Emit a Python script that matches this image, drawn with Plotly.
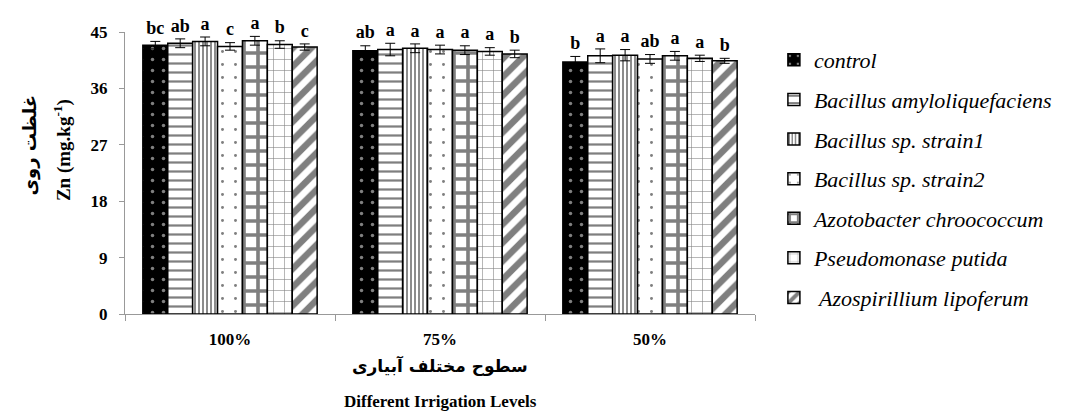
import plotly.graph_objects as go

levels = ['100%', '75%', '50%']
treatments = ['control', 'Bacillus amyloliquefaciens', 'Bacillus sp. strain1', 'Bacillus sp. strain2',
              'Azotobacter chroococcum', 'Pseudomonase putida', ' Azospirillium lipoferum']

control = [42.9, 42.0, 40.2]
amylo = [43.2, 42.2, 41.2]
strain1 = [43.5, 42.4, 41.3]
strain2 = [42.7, 42.2, 40.7]
azoto = [43.6, 42.1, 41.2]
pseudo = [43.0, 41.9, 40.8]
azosp = [42.6, 41.5, 40.4]

err_control = [0.6, 0.8, 0.9]
err_amylo = [0.7, 1.0, 1.1]
err_strain1 = [0.7, 0.7, 0.9]
err_strain2 = [0.6, 0.7, 0.7]
err_azoto = [0.7, 0.7, 0.7]
err_pseudo = [0.6, 0.6, 0.5]
err_azosp = [0.5, 0.6, 0.4]

let_control = ['bc', 'ab', 'b']
let_amylo = ['ab', 'a', 'a']
let_strain1 = ['a', 'a', 'a']
let_strain2 = ['c', 'a', 'ab']
let_azoto = ['a', 'a', 'a']
let_pseudo = ['b', 'a', 'a']
let_azosp = ['c', 'b', 'b']

values = [control, amylo, strain1, strain2, azoto, pseudo, azosp]
errors = [err_control, err_amylo, err_strain1, err_strain2, err_azoto, err_pseudo, err_azosp]
letters = [let_control, let_amylo, let_strain1, let_strain2, let_azoto, let_pseudo, let_azosp]

# black & white fill patterns like the original figure
patterns = [
    dict(shape='.', bgcolor='black', fgcolor='white', size=11, solidity=0.08),
    dict(shape='-', bgcolor='white', fgcolor='black', size=9, solidity=0.25),
    dict(shape='|', bgcolor='white', fgcolor='black', size=4, solidity=0.45),
    dict(shape='.', bgcolor='white', fgcolor='black', size=13, solidity=0.04),
    dict(shape='+', bgcolor='white', fgcolor='black', size=14, solidity=0.45),
    dict(shape='+', bgcolor='white', fgcolor='black', size=11, solidity=0.1),
    dict(shape='/', bgcolor='white', fgcolor='black', size=13, solidity=0.5),
]

serif = 'Liberation Serif'
label_pad = 0.45  # small gap between the error bar cap and the letter (kept below the axis top)

fig = go.Figure()

for i, name in enumerate(treatments):
    fig.add_trace(go.Bar(
        x=levels, y=values[i], name=name,
        offsetgroup=str(i), legendgroup=str(i),
        marker=dict(color=patterns[i]['bgcolor'], pattern=patterns[i],
                    line=dict(color='black', width=1.5)),
        error_y=dict(type='data', array=errors[i], color='black', thickness=1, width=5),
    ))

for i in range(len(treatments)):
    fig.add_trace(go.Scatter(
        x=levels, y=[v + e + label_pad for v, e in zip(values[i], errors[i])],
        mode='text', text=letters[i], textposition='top center',
        textfont=dict(family=serif, size=18, color='black', weight='bold'),
        offsetgroup=str(i), showlegend=False, cliponaxis=False, hoverinfo='skip',
    ))

ann_font = dict(color='black', weight='bold')
fig.add_annotation(x=-0.172, y=0.6, xref='paper', yref='paper', textangle=-90, showarrow=False,
                   text='غلظت روی', font=dict(family='DejaVu Sans', size=18, **ann_font))
fig.add_annotation(x=-0.122, y=0.58, xref='paper', yref='paper', textangle=-90, showarrow=False,
                   text='Zn (mg.kg<sup>-1</sup>)', font=dict(family=serif, size=19, **ann_font))
fig.add_annotation(x=0.5, y=-0.23, xref='paper', yref='paper', showarrow=False,
                   text='سطوح مختلف آبیاری', font=dict(family='DejaVu Sans', size=17, **ann_font))
fig.add_annotation(x=0.5, y=-0.352, xref='paper', yref='paper', showarrow=False,
                   text='Different Irrigation Levels', font=dict(family=serif, size=17, **ann_font))

fig.update_layout(
    width=1066, height=414,
    margin=dict(l=125, r=311, t=32, b=100, autoexpand=False),
    plot_bgcolor='white', paper_bgcolor='white',
    barmode='group', bargap=0.17, bargroupgap=0,
    scattermode='group', scattergap=0.17,
    showlegend=True,
    legend=dict(x=1.03, y=0.975, xanchor='left', yanchor='top', itemwidth=30,
                tracegroupgap=8, font=dict(family=serif, size=22, color='black', style='italic')),
)
fig.update_yaxes(range=[0, 45], tickvals=[0, 9, 18, 27, 36, 45], showgrid=False,
                 showline=True, linecolor='#999', ticks='outside', ticklen=5, tickcolor='#999',
                 ticklabelstandoff=8,
                 tickfont=dict(family=serif, size=17, color='black', weight='bold'))
fig.update_xaxes(showgrid=False, showline=True, linecolor='#999', ticks='outside', ticklen=6,
                 tickcolor='#999', tickson='boundaries', ticklabelstandoff=10,
                 tickfont=dict(family=serif, size=17, color='black', weight='bold'))

# drop the default page margin so the figure sits at the window's corner
fig.write_html("out.html", config={'displayModeBar': False},
               post_script="document.body.style.margin='0px';")
